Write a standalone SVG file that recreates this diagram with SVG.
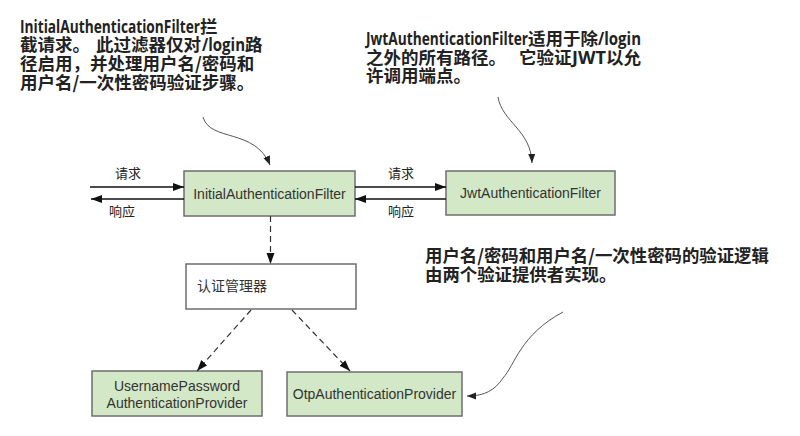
<svg xmlns="http://www.w3.org/2000/svg" width="800" height="436" viewBox="0 0 800 436">
<style>
.box{fill:#d3e8c6;stroke:#6e6e6e;stroke-width:1.5}
.wbox{fill:#fff;stroke:#6e6e6e;stroke-width:1.5}
.bt{font-family:"Liberation Sans","Noto Sans CJK SC",sans-serif;font-size:14px;fill:#333}
.lbl{font-family:"Noto Sans CJK SC",sans-serif;font-size:13px;fill:#222}
.ann{font-family:"Noto Sans CJK SC",sans-serif;font-size:17.5px;font-weight:bold;fill:#222}
.ann3{font-family:"Noto Sans CJK SC",sans-serif;font-size:17.4px;font-weight:bold;fill:#222}
.lat{font-family:"Open Sans","Noto Sans CJK SC",sans-serif;font-size:17px}
.solid{stroke:#111;stroke-width:1.4;fill:none}
.dash{stroke:#333;stroke-width:1.2;fill:none;stroke-dasharray:6,4}
.curve{stroke:#555;stroke-width:1;fill:none}
</style>
<defs>
<marker id="ah" markerUnits="userSpaceOnUse" markerWidth="12" markerHeight="10" refX="11" refY="4" orient="auto">
<path d="M0,0 L11,4 L0,8 Z" fill="#111"/>
</marker>
<marker id="ahs" markerUnits="userSpaceOnUse" markerWidth="10" markerHeight="10" refX="9" refY="3.5" orient="auto">
<path d="M0,0 L9,3.5 L0,7 Z" fill="#222"/>
</marker>
</defs>

<g id="annotation1">
<text class="ann" y="32.5"><tspan class="lat" x="20" textLength="180" lengthAdjust="spacingAndGlyphs">InitialAuthenticationFilter</tspan><tspan x="200">拦</tspan></text>
<text class="ann" y="51"><tspan x="20">截请求。</tspan><tspan x="96">此过滤器仅对</tspan><tspan class="lat" x="202" textLength="43" lengthAdjust="spacingAndGlyphs">/login</tspan><tspan x="245">路</tspan></text>
<text class="ann" x="20" y="70">径启用，并处理用户名/密码和</text>
<text class="ann" x="20" y="89">用户名/一次性密码验证步骤。</text>
</g>

<g id="annotation2">
<text class="ann" y="45"><tspan class="lat" x="366" textLength="162" lengthAdjust="spacingAndGlyphs">JwtAuthenticationFilter</tspan><tspan x="528">适用于除</tspan><tspan class="lat" x="598" textLength="43" lengthAdjust="spacingAndGlyphs">/login</tspan></text>
<text class="ann" y="63.5"><tspan x="366">之外的所有路径。</tspan><tspan x="519">它验证</tspan><tspan class="lat" x="572" textLength="34" lengthAdjust="spacingAndGlyphs">JWT</tspan><tspan x="606">以允</tspan></text>
<text class="ann" x="366" y="82">许调用端点。</text>
</g>

<g id="annotation3">
<text class="ann3" x="425" y="262">用户名/密码和用户名/一次性密码的验证逻辑</text>
<text class="ann3" x="425" y="281">由两个验证提供者实现。</text>
</g>

<g id="initialFilter">
<rect class="box" x="184" y="171" width="171" height="45"/>
<text class="bt" x="269.5" y="199" text-anchor="middle">InitialAuthenticationFilter</text>
</g>

<g id="jwtFilter">
<rect class="box" x="446" y="171" width="169" height="44"/>
<text class="bt" x="530.5" y="198" text-anchor="middle">JwtAuthenticationFilter</text>
</g>

<g id="authManager">
<rect class="wbox" x="186" y="264" width="170" height="45"/>
<text class="bt" x="197" y="291">认证管理器</text>
</g>

<g id="usernameProvider">
<rect class="box" x="92" y="371" width="170" height="45"/>
<text class="bt" x="177" y="391" text-anchor="middle">UsernamePassword</text>
<text class="bt" x="177" y="408" text-anchor="middle">AuthenticationProvider</text>
</g>

<g id="otpProvider">
<rect class="box" x="287" y="372" width="175" height="44"/>
<text class="bt" x="374.5" y="398.5" text-anchor="middle">OtpAuthenticationProvider</text>
</g>

<g id="labels">
<text class="lbl" x="115" y="178">请求</text>
<text class="lbl" x="109" y="216">响应</text>
<text class="lbl" x="388" y="178">请求</text>
<text class="lbl" x="388" y="216">响应</text>
</g>

<g id="connectors">
<path class="solid" d="M90,187 H184" marker-end="url(#ah)"/>
<path class="solid" d="M184,199 H91" marker-end="url(#ah)"/>
<path class="solid" d="M355,187 H446" marker-end="url(#ah)"/>
<path class="solid" d="M446,199 H355" marker-end="url(#ah)"/>
<path class="dash" d="M270.5,216 V264" marker-end="url(#ah)"/>
<path class="dash" d="M251,310 L197,371" marker-end="url(#ah)"/>
<path class="dash" d="M292,310 L350,371" marker-end="url(#ah)"/>
<path class="curve" d="M203,117 C210,142 255,128 270,165" marker-end="url(#ahs)"/>
<path class="curve" d="M498,97 C502,122 531,130 532,163" marker-end="url(#ahs)"/>
<path class="curve" d="M563,312 C520,335 515,365 503,378 C495,390 485,396 467,396" marker-end="url(#ahs)"/>
</g>
</svg>
